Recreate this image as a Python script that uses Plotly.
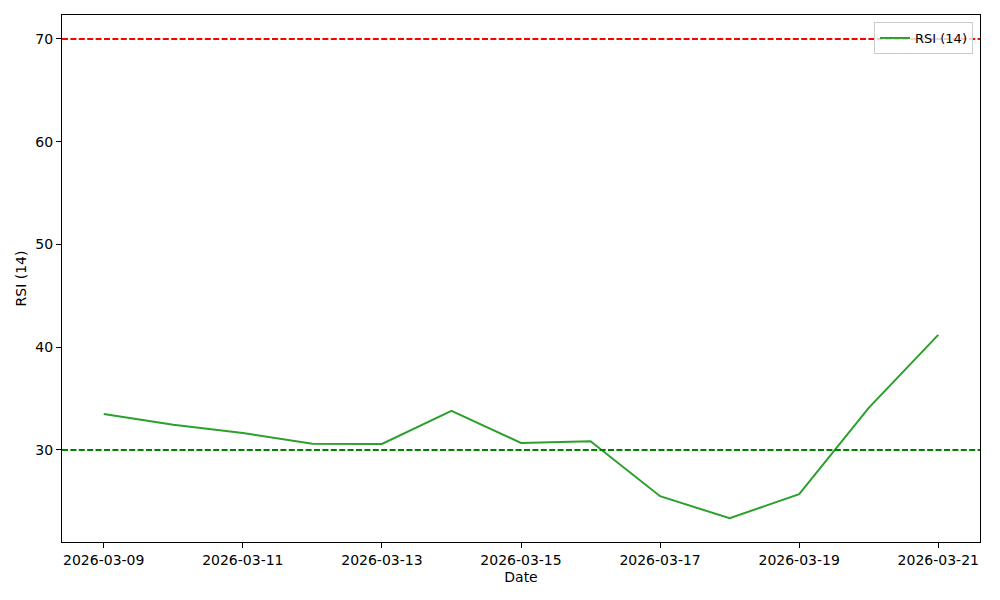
import plotly.graph_objects as go

dates = ["2026-03-09", "2026-03-10", "2026-03-11", "2026-03-12", "2026-03-13",
         "2026-03-14", "2026-03-15", "2026-03-16", "2026-03-17", "2026-03-18",
         "2026-03-19", "2026-03-20", "2026-03-21"]
rsi = [33.5, 32.45, 31.65, 30.6, 30.58, 33.8, 30.68, 30.85, 25.5, 23.35, 25.7, 34.1, 41.2]
overbought = 70
oversold = 30
tick_dates = ["2026-03-09", "2026-03-11", "2026-03-13", "2026-03-15",
              "2026-03-17", "2026-03-19", "2026-03-21"]

FONT = "DejaVu Sans"

fig = go.Figure()
fig.add_trace(go.Scatter(x=dates, y=rsi, mode="lines", name="RSI (14)",
                         line=dict(color="#2ca02c", width=2)))

for yv, col in [(overbought, "red"), (oversold, "green")]:
    fig.add_shape(type="line", xref="paper", x0=0, x1=1, yref="y", y0=yv, y1=yv,
                  line=dict(color=col, width=2, dash="6px,2.4px"), layer="above")

axis_common = dict(showline=True, linecolor="black", linewidth=1, mirror=True,
                   ticks="outside", ticklen=5, tickcolor="black", showgrid=False,
                   zeroline=False, tickfont=dict(family=FONT, size=14, color="black"))

fig.update_layout(
    width=1000, height=600,
    margin=dict(l=62, r=20, t=15, b=58),
    paper_bgcolor="white", plot_bgcolor="white",
    font=dict(family=FONT, size=14, color="black"),
    showlegend=True,
    legend=dict(x=0.9924, y=0.9867, xanchor="right", yanchor="top",
                bgcolor="rgba(255,255,255,0.8)", bordercolor="#cccccc", borderwidth=1,
                font=dict(family=FONT, size=13), tracegroupgap=0),
    xaxis=dict(axis_common, type="date", range=["2026-03-08 09:36", "2026-03-21 14:24"],
               tickvals=tick_dates, ticktext=tick_dates,
               title=dict(text="Date", standoff=5, font=dict(family=FONT, size=14))),
    yaxis=dict(axis_common, range=[21.04, 72.33], tickvals=[30, 40, 50, 60, 70],
               title=dict(text="RSI (14)", standoff=5, font=dict(family=FONT, size=14))),
)

fig.write_html("out.html", config={"displayModeBar": False},
               post_script="document.body.style.margin='0';document.body.style.overflow='hidden';")
